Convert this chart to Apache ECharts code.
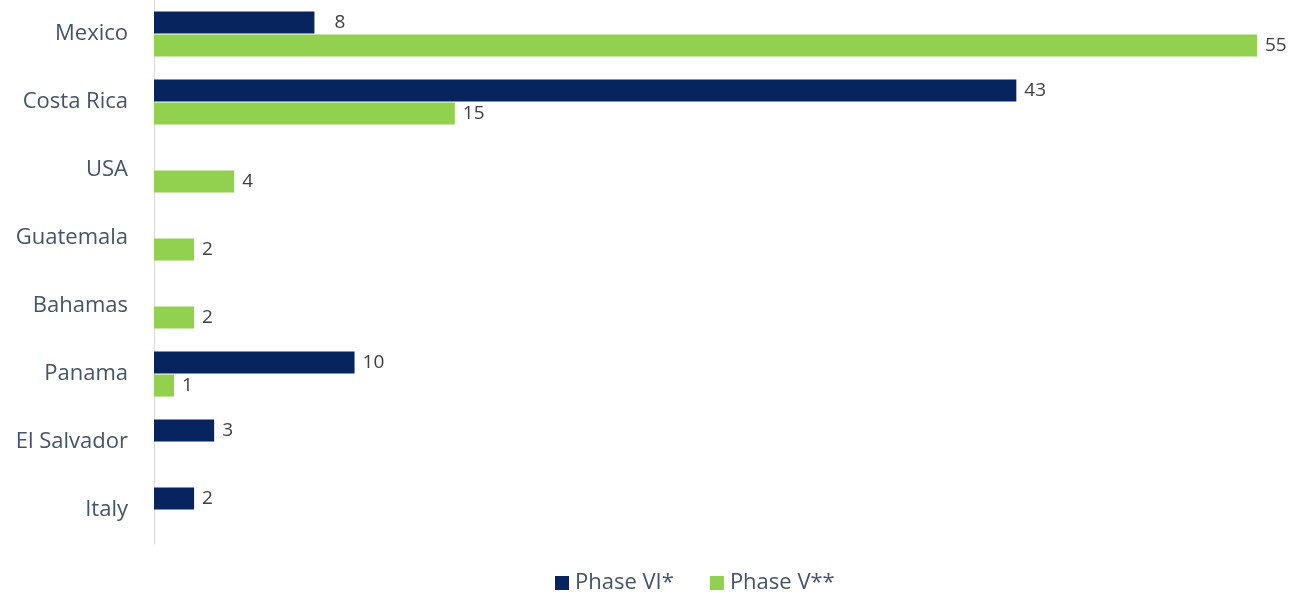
<!DOCTYPE html>
<html><head><meta charset="utf-8">
<script src="https://cdn.jsdelivr.net/npm/echarts@6/dist/echarts.min.js"></script>
<style>html,body{margin:0;padding:0;background:#fff}#c{width:1299px;height:594px}</style>
</head><body><div id="c"></div>
<script>
const categories = ['Mexico','Costa Rica','USA','Guatemala','Bahamas','Panama','El Salvador','Italy'];
const phaseVI = [8, 43, null, null, null, 10, 3, 2];
const phaseV = [55, 15, 4, 2, 2, 1, null, null];
const seriesNames = ['Phase VI*', 'Phase V**'];

const chart = echarts.init(document.getElementById('c'));
const font = 'Open Sans';
const labelStyle = {show:true, position:'right', distance:8, color:'#404040', fontSize:19, fontFamily:font};
function toData(arr, tweak){
  return arr.map((v,i)=> (tweak && tweak[i]) ? {value:v, label:tweak[i]} : v);
}
chart.setOption({
  animation:false,
  grid:{left:154, right:42, top:0, bottom:50, containLabel:false},
  legend:{left:550, top:567, itemWidth:14, itemHeight:14, itemGap:36, icon:'rect',
    textStyle:{color:'#44546A', fontSize:22, fontFamily:font, padding:[0,0,0,1]}, data:seriesNames},
  xAxis:{type:'value', min:0, max:55, show:false, splitLine:{show:false}},
  yAxis:{type:'category', inverse:true, data:categories,
    axisLine:{show:true, lineStyle:{color:'#D9D9D9'}}, axisTick:{show:false},
    axisLabel:{color:'#44546A', fontSize:22, fontFamily:font, margin:26}},
  series:[
    {name:seriesNames[0], type:'bar', data:toData(phaseVI, {0:{distance:20}}), barWidth:22, barGap:'5%',
     itemStyle:{color:'#08245E'}, label:labelStyle},
    {name:seriesNames[1], type:'bar', data:toData(phaseV), barWidth:22, barGap:'5%',
     itemStyle:{color:'#92D050'}, label:labelStyle}
  ]
});
</script></body></html>
